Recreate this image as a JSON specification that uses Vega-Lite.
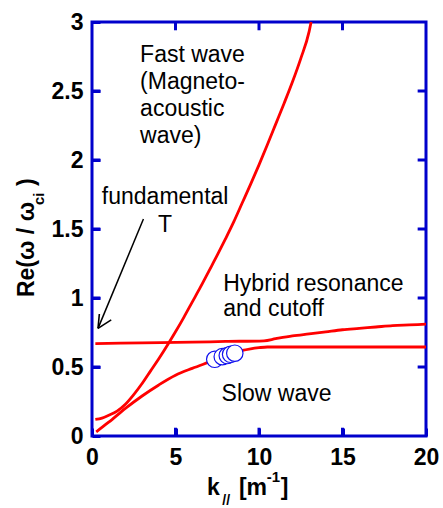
{
  "$schema": "https://vega.github.io/schema/vega-lite/v6.json",
  "width": 334,
  "height": 414,
  "autosize": {"type": "none"},
  "padding": {"left": 92, "top": 22, "right": 17, "bottom": 72},
  "background": "white",
  "config": {
    "view": {"stroke": "#0000cc", "strokeWidth": 3},
    "axis": {
      "grid": false,
      "domain": false,
      "ticks": true,
      "tickColor": "#0000cc",
      "tickWidth": 3,
      "tickSize": 8,
      "offset": -8,
      "labelFont": "Liberation Sans",
      "labelFontWeight": "bold",
      "labelFontSize": 23,
      "labelColor": "black",
      "labelFlush": false,
      "labelOverlap": false,
      "title": null
    },
    "text": {"font": "Liberation Sans", "color": "black"}
  },
  "datasets": {
    "fast": [
      {"k": 0.2, "v": 0.12}, {"k": 0.6, "v": 0.13}, {"k": 1, "v": 0.15}, {"k": 1.5, "v": 0.18},
      {"k": 2, "v": 0.23}, {"k": 2.5, "v": 0.3}, {"k": 3, "v": 0.38}, {"k": 3.5, "v": 0.47},
      {"k": 4, "v": 0.56}, {"k": 4.55, "v": 0.665}, {"k": 5, "v": 0.755}, {"k": 5.5, "v": 0.86},
      {"k": 6, "v": 0.97}, {"k": 6.5, "v": 1.08}, {"k": 7, "v": 1.195}, {"k": 7.5, "v": 1.31},
      {"k": 8, "v": 1.43}, {"k": 8.5, "v": 1.555}, {"k": 9, "v": 1.69}, {"k": 9.5, "v": 1.825},
      {"k": 10, "v": 1.965}, {"k": 10.5, "v": 2.11}, {"k": 11, "v": 2.26}, {"k": 11.5, "v": 2.41},
      {"k": 12, "v": 2.565}, {"k": 12.5, "v": 2.735}, {"k": 13, "v": 2.93}, {"k": 13.12, "v": 3.0}
    ],
    "slow": [
      {"k": 0.25, "v": 0.03}, {"k": 1, "v": 0.1}, {"k": 2, "v": 0.2}, {"k": 3, "v": 0.29},
      {"k": 4, "v": 0.37}, {"k": 5, "v": 0.44}, {"k": 6, "v": 0.49}, {"k": 7, "v": 0.535},
      {"k": 8, "v": 0.58}, {"k": 8.5, "v": 0.6}, {"k": 9, "v": 0.62}, {"k": 9.5, "v": 0.632},
      {"k": 10, "v": 0.64}, {"k": 10.5, "v": 0.645}, {"k": 15, "v": 0.645}, {"k": 20, "v": 0.645}
    ],
    "hybrid": [
      {"k": 0.2, "v": 0.67}, {"k": 3, "v": 0.675}, {"k": 6, "v": 0.68}, {"k": 8, "v": 0.685},
      {"k": 10.3, "v": 0.69}, {"k": 11, "v": 0.705}, {"k": 12, "v": 0.725}, {"k": 13, "v": 0.74},
      {"k": 14, "v": 0.755}, {"k": 15, "v": 0.77}, {"k": 16, "v": 0.78}, {"k": 17, "v": 0.79},
      {"k": 18, "v": 0.8}, {"k": 19, "v": 0.805}, {"k": 20, "v": 0.81}
    ],
    "measured": [
      {"k": 7.35, "v": 0.556}, {"k": 7.8, "v": 0.575}, {"k": 8.1, "v": 0.583},
      {"k": 8.3, "v": 0.592}, {"k": 8.55, "v": 0.6}
    ],
    "xticks": [{"k": 5}, {"k": 10}, {"k": 15}],
    "yticks": [{"v": 0.5}, {"v": 1}, {"v": 1.5}, {"v": 2}, {"v": 2.5}],
    "one": [{}]
  },
  "layer": [
    {
      "data": {"name": "hybrid"},
      "mark": {"type": "line", "color": "#ff0000", "strokeWidth": 2.8, "interpolate": "monotone"},
      "encoding": {
        "x": {"field": "k", "type": "quantitative", "scale": {"domain": [0, 20], "nice": false, "zero": false},
              "axis": {"values": [0, 5, 10, 15, 20], "labelPadding": 10}},
        "y": {"field": "v", "type": "quantitative", "scale": {"domain": [0, 3], "nice": false, "zero": false},
              "axis": {"values": [0, 0.5, 1, 1.5, 2, 2.5, 3], "format": "~g", "labelPadding": 9}}
      }
    },
    {
      "data": {"name": "fast"},
      "mark": {"type": "line", "color": "#ff0000", "strokeWidth": 2.8, "interpolate": "monotone"},
      "encoding": {
        "x": {"field": "k", "type": "quantitative"},
        "y": {"field": "v", "type": "quantitative"}
      }
    },
    {
      "data": {"name": "slow"},
      "mark": {"type": "line", "color": "#ff0000", "strokeWidth": 2.8, "interpolate": "monotone"},
      "encoding": {
        "x": {"field": "k", "type": "quantitative"},
        "y": {"field": "v", "type": "quantitative"}
      }
    },
    {
      "data": {"name": "measured"},
      "mark": {"type": "point", "shape": "circle", "filled": false, "fill": "white", "fillOpacity": 1, "stroke": "#1010ee", "strokeWidth": 1.2, "size": 270, "opacity": 1},
      "encoding": {
        "x": {"field": "k", "type": "quantitative"},
        "y": {"field": "v", "type": "quantitative"}
      }
    },
    {
      "data": {"name": "xticks"},
      "mark": {"type": "rule", "color": "#0000cc", "strokeWidth": 3},
      "encoding": {"x": {"field": "k", "type": "quantitative"}, "y": {"datum": 0}, "y2": {"datum": 0.06}}
    },
    {
      "data": {"name": "xticks"},
      "mark": {"type": "rule", "color": "#0000cc", "strokeWidth": 3},
      "encoding": {"x": {"field": "k", "type": "quantitative"}, "y": {"datum": 3}, "y2": {"datum": 2.94}}
    },
    {
      "data": {"name": "yticks"},
      "mark": {"type": "rule", "color": "#0000cc", "strokeWidth": 3},
      "encoding": {"y": {"field": "v", "type": "quantitative"}, "x": {"datum": 0}, "x2": {"datum": 0.5}}
    },
    {
      "data": {"name": "yticks"},
      "mark": {"type": "rule", "color": "#0000cc", "strokeWidth": 3},
      "encoding": {"y": {"field": "v", "type": "quantitative"}, "x": {"datum": 20}, "x2": {"datum": 19.5}}
    },
    {
      "data": {"name": "one"},
      "mark": {"type": "rule", "color": "black", "strokeWidth": 1.5},
      "encoding": {
        "x": {"datum": 0.36}, "y": {"datum": 0.78},
        "x2": {"datum": 3.08}, "y2": {"datum": 1.572}
      }
    },
    {
      "data": {"name": "one"},
      "mark": {"type": "rule", "color": "black", "strokeWidth": 1.6},
      "encoding": {
        "x": {"datum": 0.36}, "y": {"datum": 0.78},
        "x2": {"datum": 1.15}, "y2": {"datum": 0.841}
      }
    },
    {
      "data": {"name": "one"},
      "mark": {"type": "rule", "color": "black", "strokeWidth": 1.6},
      "encoding": {
        "x": {"datum": 0.36}, "y": {"datum": 0.78},
        "x2": {"datum": 0.44}, "y2": {"datum": 0.884}
      }
    },
    {
      "data": {"name": "one"},
      "mark": {"type": "text", "fontSize": 23, "align": "left", "baseline": "alphabetic", "lineBreak": "\n", "lineHeight": 27},
      "encoding": {"x": {"datum": 2.88}, "y": {"datum": 2.71}, "text": {"value": "Fast wave\n(Magneto-\nacoustic\nwave)"}}
    },
    {
      "data": {"name": "one"},
      "mark": {"type": "text", "fontSize": 23, "align": "center", "baseline": "alphabetic", "lineBreak": "\n", "lineHeight": 27.5},
      "encoding": {"x": {"datum": 4.38}, "y": {"datum": 1.68}, "text": {"value": "fundamental\nT"}}
    },
    {
      "data": {"name": "one"},
      "mark": {"type": "text", "fontSize": 23, "align": "left", "baseline": "alphabetic", "lineBreak": "\n", "lineHeight": 25.5},
      "encoding": {"x": {"datum": 7.86}, "y": {"datum": 1.053}, "text": {"value": "Hybrid resonance\nand cutoff"}}
    },
    {
      "data": {"name": "one"},
      "mark": {"type": "text", "fontSize": 23, "align": "left", "baseline": "alphabetic"},
      "encoding": {"x": {"datum": 7.76}, "y": {"datum": 0.257}, "text": {"value": "Slow wave"}}
    },
    {
      "data": {"name": "one"},
      "mark": {"type": "text", "fontSize": 23, "fontWeight": "bold", "align": "left", "baseline": "alphabetic"},
      "encoding": {"x": {"datum": 6.88}, "y": {"datum": -0.428}, "text": {"value": "k"}}
    },
    {
      "data": {"name": "one"},
      "mark": {"type": "text", "fontSize": 14, "fontWeight": "bold", "align": "left", "baseline": "alphabetic"},
      "encoding": {"x": {"datum": 7.8}, "y": {"datum": -0.5}, "text": {"value": "//"}}
    },
    {
      "data": {"name": "one"},
      "mark": {"type": "text", "fontSize": 23, "fontWeight": "bold", "align": "left", "baseline": "alphabetic"},
      "encoding": {"x": {"datum": 8.8}, "y": {"datum": -0.428}, "text": {"value": "[m"}}
    },
    {
      "data": {"name": "one"},
      "mark": {"type": "text", "fontSize": 15, "fontWeight": "bold", "align": "left", "baseline": "alphabetic"},
      "encoding": {"x": {"datum": 10.46}, "y": {"datum": -0.333}, "text": {"value": "-1"}}
    },
    {
      "data": {"name": "one"},
      "mark": {"type": "text", "fontSize": 23, "fontWeight": "bold", "align": "left", "baseline": "alphabetic"},
      "encoding": {"x": {"datum": 11.3}, "y": {"datum": -0.428}, "text": {"value": "]"}}
    },
    {
      "data": {"name": "one"},
      "mark": {"type": "text", "fontSize": 23, "fontWeight": "bold", "align": "left", "baseline": "alphabetic", "angle": 270},
      "encoding": {"x": {"datum": -3.445}, "y": {"datum": 1.007}, "text": {"value": "Re(ω / ω"}}
    },
    {
      "data": {"name": "one"},
      "mark": {"type": "text", "fontSize": 15, "fontWeight": "bold", "align": "left", "baseline": "alphabetic", "angle": 270},
      "encoding": {"x": {"datum": -2.878}, "y": {"datum": 1.674}, "text": {"value": "ci"}}
    },
    {
      "data": {"name": "one"},
      "mark": {"type": "text", "fontSize": 23, "fontWeight": "bold", "align": "left", "baseline": "alphabetic", "angle": 270},
      "encoding": {"x": {"datum": -3.445}, "y": {"datum": 1.812}, "text": {"value": ")"}}
    }
  ]
}
